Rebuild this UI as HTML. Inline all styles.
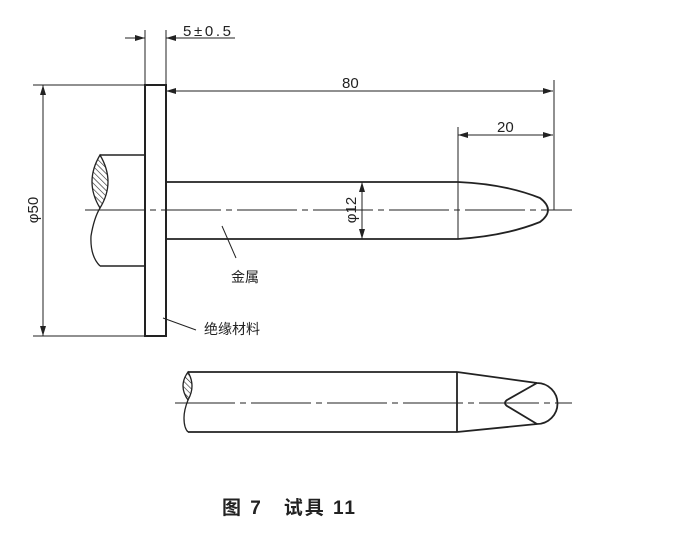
<!DOCTYPE html>
<html><head><meta charset="utf-8"><style>
html,body{margin:0;padding:0;background:#fff;}
svg{display:block;}
text{font-family:"Liberation Sans","Noto Sans CJK SC",sans-serif;fill:#222;}
</style></head><body>
<svg width="686" height="543" viewBox="0 0 686 543" xmlns="http://www.w3.org/2000/svg">
<defs>
<marker id="a" viewBox="0 0 10 6" refX="10" refY="3" markerWidth="10" markerHeight="6" orient="auto-start-reverse" markerUnits="userSpaceOnUse"><path d="M0,0 L10,3 L0,6 z" fill="#222"/></marker>
<pattern id="h" width="4" height="4" patternUnits="userSpaceOnUse" patternTransform="rotate(-45)"><line x1="0" y1="0" x2="0" y2="4" stroke="#222" stroke-width="1.2"/></pattern>
</defs>
<g stroke="#222" fill="none">
<rect x="145" y="85" width="21" height="251" stroke-width="2"/>
<line x1="100" y1="155" x2="145" y2="155" stroke-width="1.6"/>
<line x1="100" y1="266" x2="145" y2="266" stroke-width="1.6"/>
<path d="M100,155 Q84,182 100,208 Q116,182 100,155 Z" fill="url(#h)" stroke-width="1.3"/>
<path d="M100,208 Q94,218 91,236 Q90,256 100,266" stroke-width="1.3"/>
<path d="M166,182 L458,182 Q505,184 540,198 Q556,210 540,222 Q505,236 458,239 L166,239" stroke-width="1.8"/>
<line x1="85" y1="210" x2="572" y2="210" stroke-width="1" stroke-dasharray="60,5,6,5"/>
<line x1="145" y1="30" x2="145" y2="85" stroke-width="1"/>
<line x1="166" y1="30" x2="166" y2="85" stroke-width="1"/>
<line x1="125" y1="38" x2="145" y2="38" stroke-width="1" marker-end="url(#a)"/>
<line x1="235" y1="38" x2="166" y2="38" stroke-width="1" marker-end="url(#a)"/>
<line x1="33" y1="85" x2="145" y2="85" stroke-width="1"/>
<line x1="33" y1="336" x2="145" y2="336" stroke-width="1"/>
<line x1="43" y1="85" x2="43" y2="336" stroke-width="1" marker-start="url(#a)" marker-end="url(#a)"/>
<line x1="166" y1="91" x2="553" y2="91" stroke-width="1" marker-start="url(#a)" marker-end="url(#a)"/>
<line x1="554" y1="80" x2="554" y2="210" stroke-width="1"/>
<line x1="458" y1="135" x2="553" y2="135" stroke-width="1" marker-start="url(#a)" marker-end="url(#a)"/>
<line x1="458" y1="127" x2="458" y2="239" stroke-width="1"/>
<line x1="362" y1="182" x2="362" y2="239" stroke-width="1" marker-start="url(#a)" marker-end="url(#a)"/>
<line x1="222" y1="226" x2="236" y2="258" stroke-width="1"/>
<line x1="163" y1="318" x2="196" y2="330" stroke-width="1"/>
<line x1="188" y1="372" x2="457" y2="372" stroke-width="1.8"/>
<line x1="188" y1="432" x2="457" y2="432" stroke-width="1.8"/>
<line x1="457" y1="372" x2="457" y2="432" stroke-width="1.8"/>
<path d="M188,372 Q178,386 188,400 Q196,386 188,372 Z" fill="url(#h)" stroke-width="1.3"/>
<path d="M188,400 Q184,410 184,418 Q184,428 188,432" stroke-width="1.3"/>
<path d="M457,372 L537,383 A20,20 0 0 1 537,424 L457,432" stroke-width="1.8"/>
<path d="M537,383 L507,400 Q503,403 507,406 L537,424" stroke-width="1.8"/>
<line x1="175" y1="403" x2="572" y2="403" stroke-width="1" stroke-dasharray="60,5,6,5"/>
</g>
<text x="183" y="36" font-size="15" textLength="48">5±0.5</text>
<text x="342" y="88" font-size="15">80</text>
<text x="497" y="132" font-size="15">20</text>
<text transform="translate(38,210) rotate(-90)" font-size="15" text-anchor="middle">φ50</text>
<text transform="translate(356,210) rotate(-90)" font-size="15" text-anchor="middle">φ12</text>
<text x="231" y="282" font-size="14">金属</text>
<text x="204" y="334" font-size="14">绝缘材料</text>
<text x="222" y="514" font-size="19" font-weight="bold" textLength="133">图 7　试具 11</text>
</svg>
</body></html>
